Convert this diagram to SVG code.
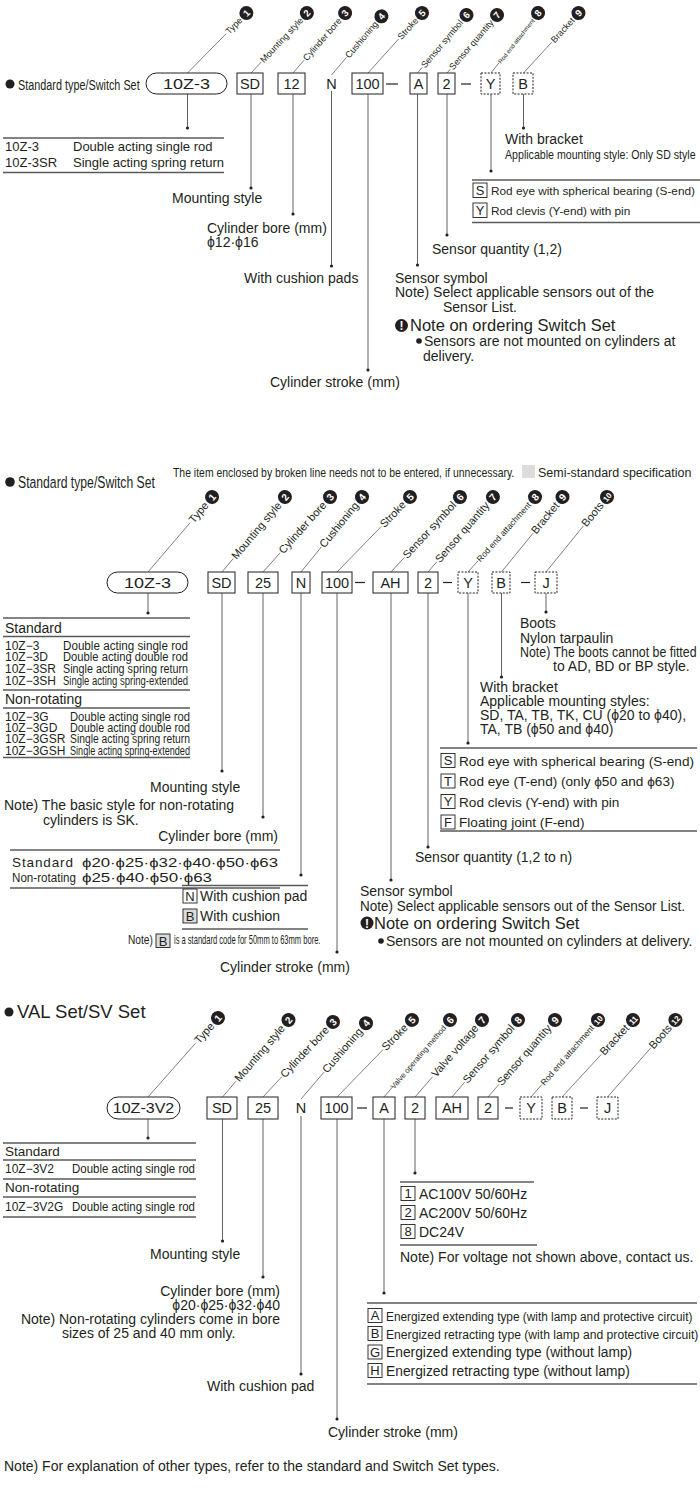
<svg xmlns="http://www.w3.org/2000/svg" width="700" height="1500" viewBox="0 0 700 1500">
<style>
text{font-family:"Liberation Sans",Arial,"DejaVu Sans",sans-serif;fill:#231f20}
.s14{font-size:14px}
.s13{font-size:13px}
.s12{font-size:12px}
.code{font-size:14.5px;text-anchor:middle}
.l9{font-size:9px;text-anchor:end}
.l11{font-size:11px;text-anchor:end}
.n{font-weight:bold;text-anchor:middle}
.box{fill:#fff;stroke:#231f20;stroke-width:1}
.dbox{fill:#fff;stroke:#231f20;stroke-width:1;stroke-dasharray:2 1.4}
.sb{fill:#fff;stroke:#231f20;stroke-width:0.9}
.gb{fill:#dcdcdc;stroke:#231f20;stroke-width:0.9}
.ld{stroke:#3a3a3a;stroke-width:0.6}
.vl{stroke:#3a3a3a;stroke-width:0.8}
.rule{stroke:#5a5a5a;stroke-width:1.3}
.dash{stroke:#231f20;stroke-width:1.2}
.dot{fill:#231f20}
.cb{fill:#231f20}
.sl{font-size:13px;text-anchor:middle}
text.n,text.w{fill:#fff}
</style>

<!-- ================= SECTION 1 ================= -->
<g id="s1-title"><circle class="dot" cx="10" cy="84" r="4.5"/><text transform="translate(18,90) scale(0.70,1)" font-size="15.5">Standard type/Switch Set</text></g>

<g id="s1-codes">
<g id="s1-type"><rect class="box" x="146" y="73" width="81" height="21" rx="10.5"/><text class="code" transform="translate(186.5,89) scale(1.2,1)" style="font-size:15px">10Z-3</text></g>
<g id="s1-mount"><rect class="box" x="237" y="73" width="26" height="21"/><text class="code" x="250" y="89">SD</text></g>
<g id="s1-bore"><rect class="box" x="278" y="73" width="27" height="21"/><text class="code" x="291.5" y="89">12</text></g>
<g id="s1-cush"><text class="code" x="331.5" y="89">N</text></g>
<g id="s1-stroke"><rect class="box" x="352" y="73" width="31" height="21"/><text class="code" x="367.5" y="89">100</text></g>
<line class="dash" x1="386" y1="84" x2="398" y2="84"/>
<g id="s1-sensor"><rect class="box" x="410" y="73" width="17" height="21"/><text class="code" x="418.5" y="89">A</text></g>
<g id="s1-qty"><rect class="box" x="438" y="73" width="17" height="21"/><text class="code" x="446.5" y="89">2</text></g>
<line class="dash" x1="461" y1="84" x2="471" y2="84"/>
<g id="s1-rodend"><rect class="dbox" x="481" y="73" width="19" height="21"/><text class="code" x="490.5" y="89">Y</text></g>
<g id="s1-bracket"><rect class="dbox" x="513" y="73" width="20" height="21"/><text class="code" x="523" y="89">B</text></g>
</g>

<g id="s1-leaders">
<g transform="translate(187.5,73) rotate(-45.5)"><line class="ld" x1="0" y1="0" x2="55" y2="0"/><text class="l9" x="76" y="3">Type</text><circle class="cb" cx="84" cy="0" r="7"/><text class="n" x="84" y="3.3" font-size="9.5">1</text></g>
<g transform="translate(251,73) rotate(-47)"><line class="ld" x1="0" y1="0" x2="15" y2="0"/><text class="l9" x="74" y="3">Mounting style</text><circle class="cb" cx="82" cy="0" r="7"/><text class="n" x="82" y="3.3" font-size="9.5">2</text></g>
<g transform="translate(293,73) rotate(-49)"><line class="ld" x1="0" y1="0" x2="17" y2="0"/><text class="l9" x="71.4" y="3">Cylinder bore</text><circle class="cb" cx="79.4" cy="0" r="7"/><text class="n" x="79.4" y="3.3" font-size="9.5">3</text></g>
<g transform="translate(331.5,75) rotate(-49.6)"><line class="ld" x1="0" y1="0" x2="23" y2="0"/><text class="l9" x="69" y="3">Cushioning</text><circle class="cb" cx="77" cy="0" r="7"/><text class="n" x="77" y="3.3" font-size="9.5">4</text></g>
<g transform="translate(368,73) rotate(-48)"><line class="ld" x1="0" y1="0" x2="45.7" y2="0"/><text class="l9" x="72.7" y="3">Stroke</text><circle class="cb" cx="80.7" cy="0" r="7"/><text class="n" x="80.7" y="3.3" font-size="9.5">5</text></g>
<g transform="translate(417.5,73) rotate(-49.8)"><line class="ld" x1="0" y1="0" x2="7.4" y2="0"/><text class="l9" x="67.9" y="3">Sensor symbol</text><circle class="cb" cx="75.9" cy="0" r="7"/><text class="n" x="75.9" y="3.3" font-size="9.5">6</text></g>
<g transform="translate(447,73) rotate(-49.2)"><line class="ld" x1="0" y1="0" x2="5.2" y2="0"/><text class="l9" x="68.6" y="3">Sensor quantity</text><circle class="cb" cx="76.6" cy="0" r="7"/><text class="n" x="76.6" y="3.3" font-size="9.5">7</text></g>
<g transform="translate(491,73) rotate(-51.9)"><line class="ld" x1="0" y1="0" x2="13.2" y2="0"/><text x="68.2" y="2.4" font-size="6.1" text-anchor="end">Rod end attachment</text><circle class="cb" cx="76.2" cy="0" r="7"/><text class="n" x="76.2" y="3.3" font-size="9.5">8</text></g>
<g transform="translate(523.5,73) rotate(-47.5)"><line class="ld" x1="0" y1="0" x2="41.9" y2="0"/><text class="l9" x="73.4" y="3">Bracket</text><circle class="cb" cx="81.4" cy="0" r="7"/><text class="n" x="81.4" y="3.3" font-size="9.5">9</text></g>
</g>

<g id="s1-connectors">
<line class="vl" x1="187.5" y1="94" x2="187.5" y2="128"/><circle class="dot" cx="187.5" cy="128" r="1.6"/>
<line class="vl" x1="251" y1="94" x2="251" y2="188"/><circle class="dot" cx="251" cy="188" r="1.6"/>
<line class="vl" x1="293" y1="94" x2="293" y2="214"/><circle class="dot" cx="293" cy="214" r="1.6"/>
<line class="vl" x1="331.5" y1="91" x2="331.5" y2="266"/><circle class="dot" cx="331.5" cy="266" r="1.6"/>
<line class="vl" x1="368" y1="94" x2="368" y2="370"/><circle class="dot" cx="368" cy="370" r="1.6"/>
<line class="vl" x1="417.5" y1="94" x2="417.5" y2="265"/><circle class="dot" cx="417.5" cy="265" r="1.6"/>
<line class="vl" x1="447" y1="94" x2="447" y2="235"/><circle class="dot" cx="447" cy="235" r="1.6"/>
<line class="vl" x1="491" y1="94" x2="491" y2="171"/><circle class="dot" cx="491" cy="171" r="1.6"/>
<line class="vl" x1="523.5" y1="94" x2="523.5" y2="128"/><circle class="dot" cx="523.5" cy="128" r="1.6"/>
</g>

<g id="s1-type-table">
<line class="rule" x1="3" y1="138" x2="224" y2="138"/>
<text class="s13" x="5" y="151">10Z-3</text><text class="s13" x="73" y="151">Double acting single rod</text>
<text class="s13" x="5" y="167">10Z-3SR</text><text class="s13" x="73" y="167">Single acting spring return</text>
<line class="rule" x1="3" y1="172.5" x2="224" y2="172.5"/>
</g>
<text class="s14" x="172" y="203">Mounting style</text>
<text class="s14" x="207" y="233">Cylinder bore (mm)</text>
<text class="s14" x="207" y="247">ϕ12·ϕ16</text>
<text class="s14" x="244" y="282.5">With cushion pads</text>
<text class="s14" x="270" y="387">Cylinder stroke (mm)</text>
<text class="s14" x="432" y="253.5">Sensor quantity (1,2)</text>
<text class="s14" x="395" y="282.5">Sensor symbol</text>
<text class="s14" x="395" y="297">Note) Select applicable sensors out of the</text>
<text class="s14" x="443" y="312">Sensor List.</text>
<g id="s1-note"><circle class="cb" cx="401.5" cy="325.5" r="6.5"/><text class="w" x="401.5" y="330" font-size="12" font-weight="bold" text-anchor="middle">!</text>
<text x="410" y="330.5" font-size="16.5">Note on ordering Switch Set</text>
<circle class="dot" cx="419" cy="341" r="2.8"/><text class="s14" x="424" y="345.5">Sensors are not mounted on cylinders at</text>
<text class="s14" x="423" y="360.5">delivery.</text></g>
<text class="s14" x="505" y="144">With bracket</text>
<text transform="translate(505,158.5) scale(0.885,1)" font-size="12">Applicable mounting style: Only SD style</text>
<g id="s1-rodend-table">
<line class="rule" x1="472" y1="180" x2="700" y2="180"/>
<rect class="sb" x="473" y="183" width="14" height="14.5"/><text class="sl" x="480" y="194.5">S</text><text x="491" y="195" font-size="11.8">Rod eye with spherical bearing (S-end)</text>
<rect class="sb" x="473" y="203" width="14" height="14.5"/><text class="sl" x="480" y="214.5">Y</text><text x="491" y="215" font-size="11.8">Rod clevis (Y-end) with pin</text>
<line class="rule" x1="472" y1="222.5" x2="700" y2="222.5"/>
</g>

<!-- ================= SECTION 2 ================= -->
<g id="s2-title"><circle class="dot" cx="10" cy="482" r="4.8"/><text transform="translate(18,488) scale(0.739,1)" font-size="16.5">Standard type/Switch Set</text></g>
<text transform="translate(173,477) scale(0.87,1)" font-size="12">The item enclosed by broken line needs not to be entered, if unnecessary.</text>
<rect x="522" y="465" width="13" height="13" fill="#dcdcdc"/>
<text transform="translate(538,477) scale(0.925,1)" font-size="13.5">Semi-standard specification</text>

<g id="s2-codes">
<g id="s2-type"><rect class="box" x="107" y="572" width="81" height="21" rx="10.5"/><text class="code" transform="translate(147.5,588) scale(1.2,1)" style="font-size:15px">10Z-3</text></g>
<g id="s2-mount"><rect class="box" x="208" y="572" width="27" height="21"/><text class="code" x="221.5" y="588">SD</text></g>
<g id="s2-bore"><rect class="box" x="248" y="572" width="30" height="21"/><text class="code" x="263" y="588">25</text></g>
<g id="s2-cush"><rect class="box" x="292" y="572" width="18" height="21"/><text class="code" x="301" y="588">N</text></g>
<g id="s2-stroke"><rect class="box" x="322" y="572" width="30" height="21"/><text class="code" x="337" y="588">100</text></g>
<line class="dash" x1="355" y1="582.5" x2="365" y2="582.5"/>
<g id="s2-sensor"><rect class="box" x="373" y="572" width="35" height="21"/><text class="code" x="390.5" y="588">AH</text></g>
<g id="s2-qty"><rect class="box" x="418" y="572" width="20" height="21"/><text class="code" x="428" y="588">2</text></g>
<line class="dash" x1="443" y1="582.5" x2="452" y2="582.5"/>
<g id="s2-rodend"><rect class="dbox" x="458" y="572" width="20" height="21"/><text class="code" x="468" y="588">Y</text></g>
<g id="s2-bracket"><rect class="dbox" x="492" y="572" width="18" height="21"/><text class="code" x="501" y="588">B</text></g>
<line class="dash" x1="521" y1="582.5" x2="530" y2="582.5"/>
<g id="s2-boots"><rect class="dbox" x="535" y="572" width="22" height="21"/><text class="code" x="546" y="588">J</text></g>
</g>

<g id="s2-leaders">
<g transform="translate(148,572) rotate(-49.5)"><line class="ld" x1="0" y1="0" x2="64.6" y2="0"/><text class="l11" x="90.1" y="3.5">Type</text><circle class="cb" cx="98.6" cy="0" r="7"/><text class="n" x="98.6" y="3.6" font-size="10">1</text></g>
<g transform="translate(222,572) rotate(-50)"><line class="ld" x1="0" y1="0" x2="17.5" y2="0"/><text class="l11" x="89.4" y="3.5">Mounting style</text><circle class="cb" cx="97.9" cy="0" r="7"/><text class="n" x="97.9" y="3.6" font-size="10">2</text></g>
<g transform="translate(263,572) rotate(-48.2)"><line class="ld" x1="0" y1="0" x2="25.7" y2="0"/><text class="l11" x="92.1" y="3.5">Cylinder bore</text><circle class="cb" cx="100.6" cy="0" r="7"/><text class="n" x="100.6" y="3.6" font-size="10">3</text></g>
<g transform="translate(301,572) rotate(-50.9)"><line class="ld" x1="0" y1="0" x2="32.2" y2="0"/><text class="l11" x="88.2" y="3.5">Cushioning</text><circle class="cb" cx="96.7" cy="0" r="7"/><text class="n" x="96.7" y="3.6" font-size="10">4</text></g>
<g transform="translate(337,572) rotate(-45.8)"><line class="ld" x1="0" y1="0" x2="63.4" y2="0"/><text class="l11" x="96.2" y="3.5">Stroke</text><circle class="cb" cx="104.7" cy="0" r="7"/><text class="n" x="104.7" y="3.6" font-size="10">5</text></g>
<g transform="translate(391,572) rotate(-47.4)"><line class="ld" x1="0" y1="0" x2="19.7" y2="0"/><text class="l11" x="93.4" y="3.5">Sensor symbol</text><circle class="cb" cx="101.9" cy="0" r="7"/><text class="n" x="101.9" y="3.6" font-size="10">6</text></g>
<g transform="translate(428,572) rotate(-49.1)"><line class="ld" x1="0" y1="0" x2="13.5" y2="0"/><text class="l11" x="90.7" y="3.5">Sensor quantity</text><circle class="cb" cx="99.2" cy="0" r="7"/><text class="n" x="99.2" y="3.6" font-size="10">7</text></g>
<g transform="translate(468,572) rotate(-48.2)"><line class="ld" x1="0" y1="0" x2="15.1" y2="0"/><text x="92.1" y="3" font-size="8.5" text-anchor="end">Rod end attachment</text><circle class="cb" cx="100.6" cy="0" r="7"/><text class="n" x="100.6" y="3.6" font-size="10">8</text></g>
<g transform="translate(501.5,572) rotate(-50.9)"><line class="ld" x1="0" y1="0" x2="49.9" y2="0"/><text class="l11" x="88.2" y="3.5">Bracket</text><circle class="cb" cx="96.7" cy="0" r="7"/><text class="n" x="96.7" y="3.6" font-size="10">9</text></g>
<g transform="translate(546,572) rotate(-50.9)"><line class="ld" x1="0" y1="0" x2="59.1" y2="0"/><text class="l11" x="88.2" y="3.5">Boots</text><circle class="cb" cx="96.7" cy="0" r="7"/><text class="n" x="96.7" y="3.2" font-size="8">10</text></g>
</g>

<g id="s2-connectors">
<line class="vl" x1="148" y1="593" x2="148" y2="613"/><circle class="dot" cx="148" cy="613" r="1.6"/>
<line class="vl" x1="222" y1="593" x2="222" y2="771"/><circle class="dot" cx="222" cy="771" r="1.6"/>
<line class="vl" x1="263" y1="593" x2="263" y2="817"/><circle class="dot" cx="263" cy="817" r="1.6"/>
<line class="vl" x1="301" y1="593" x2="301" y2="875"/><circle class="dot" cx="301" cy="875" r="1.6"/>
<line class="vl" x1="337" y1="593" x2="337" y2="952"/><circle class="dot" cx="337" cy="952" r="1.6"/>
<line class="vl" x1="391" y1="593" x2="391" y2="880"/><circle class="dot" cx="391" cy="880" r="1.6"/>
<line class="vl" x1="428" y1="593" x2="428" y2="847"/><circle class="dot" cx="428" cy="847" r="1.6"/>
<line class="vl" x1="468" y1="593" x2="468" y2="743"/><circle class="dot" cx="468" cy="743" r="1.6"/>
<line class="vl" x1="501.5" y1="593" x2="501.5" y2="677"/><circle class="dot" cx="501.5" cy="677" r="1.6"/>
<line class="vl" x1="546" y1="593" x2="546" y2="612"/><circle class="dot" cx="546" cy="612" r="1.6"/>
</g>

<g id="s2-type-table">
<line class="rule" x1="3" y1="618" x2="190" y2="618"/>
<text class="s14" x="5" y="633">Standard</text>
<line class="rule" x1="3" y1="636.5" x2="190" y2="636.5"/>
<text class="s12" x="5" y="649.5">10Z−3</text><text x="63" y="649.5" font-size="12" textLength="125" lengthAdjust="spacingAndGlyphs">Double acting single rod</text>
<text class="s12" x="5" y="661">10Z−3D</text><text x="63" y="661" font-size="12" textLength="125" lengthAdjust="spacingAndGlyphs">Double acting double rod</text>
<text class="s12" x="5" y="672.5">10Z−3SR</text><text x="63" y="672.5" font-size="12" textLength="125" lengthAdjust="spacingAndGlyphs">Single acting spring return</text>
<text class="s12" x="5" y="684.5">10Z−3SH</text><text x="63" y="684.5" font-size="12" textLength="125" lengthAdjust="spacingAndGlyphs">Single acting spring-extended</text>
<line class="rule" x1="3" y1="690" x2="190" y2="690"/>
<text class="s14" x="5" y="703.5">Non-rotating</text>
<line class="rule" x1="3" y1="708" x2="190" y2="708"/>
<text class="s12" x="5" y="720.5">10Z−3G</text><text x="70" y="720.5" font-size="12" textLength="120" lengthAdjust="spacingAndGlyphs">Double acting single rod</text>
<text class="s12" x="5" y="731.5">10Z−3GD</text><text x="70" y="731.5" font-size="12" textLength="120" lengthAdjust="spacingAndGlyphs">Double acting double rod</text>
<text class="s12" x="5" y="743">10Z−3GSR</text><text x="70" y="743" font-size="12" textLength="120" lengthAdjust="spacingAndGlyphs">Single acting spring return</text>
<text class="s12" x="5" y="754.5">10Z−3GSH</text><text x="70" y="754.5" font-size="12" textLength="120" lengthAdjust="spacingAndGlyphs">Single acting spring-extended</text>
<line class="rule" x1="3" y1="757.5" x2="190" y2="757.5"/>
</g>
<text class="s14" x="150" y="792">Mounting style</text>
<text class="s14" x="4" y="810">Note) The basic style for non-rotating</text>
<text class="s14" x="43" y="825">cylinders is SK.</text>
<text class="s14" x="278" y="841" text-anchor="end">Cylinder bore (mm)</text>
<g id="s2-bore-table">
<line class="rule" x1="10" y1="850" x2="280" y2="850"/>
<text x="12" y="867" font-size="13.5" textLength="61">Standard</text>
<text x="82" y="867" font-size="13.5" textLength="196" lengthAdjust="spacingAndGlyphs">ϕ20·ϕ25·ϕ32·ϕ40·ϕ50·ϕ63</text>
<text transform="translate(12,882) scale(0.93,1)" font-size="12.5">Non-rotating</text>
<text x="82" y="882" font-size="13.5" textLength="130" lengthAdjust="spacingAndGlyphs">ϕ25·ϕ40·ϕ50·ϕ63</text>
<line class="rule" x1="10" y1="888" x2="280" y2="888"/>
</g>
<g id="s2-cush-table">
<line class="rule" x1="182" y1="885.5" x2="308" y2="885.5"/>
<rect class="sb" x="183" y="889" width="14" height="14"/><text class="sl" x="190" y="900.5">N</text><text class="s14" x="200" y="901">With cushion pad</text>
<rect class="gb" x="183" y="909" width="14" height="14"/><text class="sl" x="190" y="920.5">B</text><text class="s14" x="200" y="921">With cushion</text>
<line class="rule" x1="182" y1="929" x2="308" y2="929"/>
</g>
<g id="s2-cush-note"><text transform="translate(128,944) scale(0.85,1)" font-size="12">Note)</text>
<rect class="gb" x="156" y="934" width="14" height="13.5"/><text class="sl" x="163" y="945.5">B</text>
<text transform="translate(174,944) scale(0.63,1)" font-size="12">is a standard code for 50mm to 63mm bore.</text></g>
<text class="s14" x="220" y="972">Cylinder stroke (mm)</text>

<text class="s14" x="415" y="862">Sensor quantity (1,2 to n)</text>
<text class="s14" x="360" y="896">Sensor symbol</text>
<text transform="translate(360,910.5) scale(0.965,1)" font-size="14">Note) Select applicable sensors out of the Sensor List.</text>
<g id="s2-note"><circle class="cb" cx="367" cy="923" r="6.5"/><text class="w" x="367" y="927.5" font-size="12" font-weight="bold" text-anchor="middle">!</text>
<text x="374" y="928.5" font-size="16.5">Note on ordering Switch Set</text>
<circle class="dot" cx="381" cy="941" r="2.8"/><text x="386" y="945.5" font-size="14">Sensors are not mounted on cylinders at delivery.</text></g>

<text class="s14" x="520" y="628">Boots</text>
<text class="s14" x="520" y="643">Nylon tarpaulin</text>
<text transform="translate(520,657) scale(0.885,1)" font-size="14">Note) The boots cannot be fitted</text>
<text class="s14" x="553" y="671">to AD, BD or BP style.</text>
<text class="s14" x="480" y="692">With bracket</text>
<text class="s14" x="480" y="706">Applicable mounting styles:</text>
<text class="s14" x="480" y="720">SD, TA, TB, TK, CU (ϕ20 to ϕ40),</text>
<text class="s14" x="480" y="734">TA, TB (ϕ50 and ϕ40)</text>
<g id="s2-rodend-table">
<line class="rule" x1="440" y1="748" x2="697" y2="748"/>
<rect class="sb" x="441" y="753.5" width="14" height="14"/><text class="sl" x="448" y="765">S</text><text x="459" y="765.5" font-size="13.6">Rod eye with spherical bearing (S-end)</text>
<rect class="sb" x="441" y="774" width="14" height="14"/><text class="sl" x="448" y="785.5">T</text><text x="459" y="786" font-size="13.6">Rod eye (T-end) (only ϕ50 and ϕ63)</text>
<rect class="sb" x="441" y="794.5" width="14" height="14"/><text class="sl" x="448" y="806">Y</text><text x="459" y="806.5" font-size="13.6">Rod clevis (Y-end) with pin</text>
<rect class="sb" x="441" y="815" width="14" height="14"/><text class="sl" x="448" y="826.5">F</text><text x="459" y="827" font-size="13.6">Floating joint (F-end)</text>
<line class="rule" x1="440" y1="831" x2="697" y2="831"/>
</g>

<!-- ================= SECTION 3 ================= -->
<g id="s3-title"><circle class="dot" cx="9" cy="1012" r="4.5"/><text x="17" y="1018" font-size="18.5">VAL Set/SV Set</text></g>

<g id="s3-codes">
<g id="s3-type"><rect class="box" x="107" y="1097" width="73" height="22" rx="11"/><text class="code" transform="translate(143.5,1113) scale(1.07,1)" style="font-size:15px">10Z-3V2</text></g>
<g id="s3-mount"><rect class="box" x="207" y="1097" width="30" height="22"/><text class="code" x="222" y="1113">SD</text></g>
<g id="s3-bore"><rect class="box" x="248" y="1097" width="30" height="22"/><text class="code" x="263" y="1113">25</text></g>
<g id="s3-cush"><text class="code" x="301" y="1113">N</text></g>
<g id="s3-stroke"><rect class="box" x="321" y="1097" width="31" height="22"/><text class="code" x="336.5" y="1113">100</text></g>
<line class="dash" x1="357" y1="1108" x2="367" y2="1108"/>
<g id="s3-valveop"><rect class="box" x="373" y="1097" width="22" height="22"/><text class="code" x="384" y="1113">A</text></g>
<g id="s3-volt"><rect class="box" x="405" y="1097" width="20" height="22"/><text class="code" x="415" y="1113">2</text></g>
<g id="s3-sensor"><rect class="box" x="436" y="1097" width="32" height="22"/><text class="code" x="452" y="1113">AH</text></g>
<g id="s3-qty"><rect class="box" x="478" y="1097" width="20" height="22"/><text class="code" x="488" y="1113">2</text></g>
<line class="dash" x1="505" y1="1108" x2="513" y2="1108"/>
<g id="s3-rodend"><rect class="dbox" x="520" y="1097" width="22" height="22"/><text class="code" x="531" y="1113">Y</text></g>
<g id="s3-bracket"><rect class="dbox" x="552" y="1097" width="20" height="22"/><text class="code" x="562" y="1113">B</text></g>
<line class="dash" x1="580" y1="1108" x2="588" y2="1108"/>
<g id="s3-boots"><rect class="dbox" x="597" y="1097" width="21" height="22"/><text class="code" x="607.5" y="1113">J</text></g>
</g>

<g id="s3-leaders">
<g transform="translate(148,1097) rotate(-48.5)"><line class="ld" x1="0" y1="0" x2="71.6" y2="0"/><text class="l11" x="97.1" y="3.5">Type</text><circle class="cb" cx="105.6" cy="0" r="7"/><text class="n" x="105.6" y="3.6" font-size="10">1</text></g>
<g transform="translate(222.5,1097) rotate(-49.4)"><line class="ld" x1="0" y1="0" x2="21" y2="0"/><text class="l11" x="92.9" y="3.5">Mounting style</text><circle class="cb" cx="101.4" cy="0" r="7"/><text class="n" x="101.4" y="3.6" font-size="10">2</text></g>
<g transform="translate(263,1097) rotate(-47)"><line class="ld" x1="0" y1="0" x2="27.7" y2="0"/><text class="l11" x="94.1" y="3.5">Cylinder bore</text><circle class="cb" cx="102.6" cy="0" r="7"/><text class="n" x="102.6" y="3.6" font-size="10">3</text></g>
<g transform="translate(301,1099) rotate(-49.4)"><line class="ld" x1="0" y1="0" x2="35.4" y2="0"/><text class="l11" x="91.4" y="3.5">Cushioning</text><circle class="cb" cx="99.9" cy="0" r="7"/><text class="n" x="99.9" y="3.6" font-size="10">4</text></g>
<g transform="translate(337,1097) rotate(-45.8)"><line class="ld" x1="0" y1="0" x2="66.2" y2="0"/><text class="l11" x="99" y="3.5">Stroke</text><circle class="cb" cx="107.5" cy="0" r="7"/><text class="n" x="107.5" y="3.6" font-size="10">5</text></g>
<g transform="translate(384,1097) rotate(-49.4)"><line class="ld" x1="0" y1="0" x2="13.9" y2="0"/><text x="92.9" y="2.7" font-size="7.7" text-anchor="end">Valve operating method</text><circle class="cb" cx="101.4" cy="0" r="7"/><text class="n" x="101.4" y="3.6" font-size="10">6</text></g>
<g transform="translate(415,1097) rotate(-49)"><line class="ld" x1="0" y1="0" x2="26.6" y2="0"/><text class="l11" x="93.6" y="3.5">Valve voltage</text><circle class="cb" cx="102.1" cy="0" r="7"/><text class="n" x="102.1" y="3.6" font-size="10">7</text></g>
<g transform="translate(452,1097) rotate(-49.4)"><line class="ld" x1="0" y1="0" x2="19.2" y2="0"/><text class="l11" x="92.9" y="3.5">Sensor symbol</text><circle class="cb" cx="101.4" cy="0" r="7"/><text class="n" x="101.4" y="3.6" font-size="10">8</text></g>
<g transform="translate(488,1097) rotate(-49)"><line class="ld" x1="0" y1="0" x2="16.4" y2="0"/><text class="l11" x="93.6" y="3.5">Sensor quantity</text><circle class="cb" cx="102.1" cy="0" r="7"/><text class="n" x="102.1" y="3.6" font-size="10">9</text></g>
<g transform="translate(531,1097) rotate(-49)"><line class="ld" x1="0" y1="0" x2="16.6" y2="0"/><text x="93.6" y="3" font-size="8.5" text-anchor="end">Rod end attachment</text><circle class="cb" cx="102.1" cy="0" r="7"/><text class="n" x="102.1" y="3.2" font-size="8">10</text></g>
<g transform="translate(562,1097) rotate(-47.3)"><line class="ld" x1="0" y1="0" x2="57.9" y2="0"/><text class="l11" x="96.2" y="3.5">Bracket</text><circle class="cb" cx="104.7" cy="0" r="7"/><text class="n" x="104.7" y="3.2" font-size="8">11</text></g>
<g transform="translate(607.5,1097) rotate(-48.6)"><line class="ld" x1="0" y1="0" x2="65.1" y2="0"/><text class="l11" x="94.2" y="3.5">Boots</text><circle class="cb" cx="102.7" cy="0" r="7"/><text class="n" x="102.7" y="3.2" font-size="8">12</text></g>
</g>

<g id="s3-connectors">
<line class="vl" x1="148" y1="1119" x2="148" y2="1138"/><circle class="dot" cx="148" cy="1138" r="1.6"/>
<line class="vl" x1="222.5" y1="1119" x2="222.5" y2="1241"/><circle class="dot" cx="222.5" cy="1241" r="1.6"/>
<line class="vl" x1="263" y1="1119" x2="263" y2="1277"/><circle class="dot" cx="263" cy="1277" r="1.6"/>
<line class="vl" x1="301" y1="1116" x2="301" y2="1374"/><circle class="dot" cx="301" cy="1374" r="1.6"/>
<line class="vl" x1="337" y1="1119" x2="337" y2="1419"/><circle class="dot" cx="337" cy="1419" r="1.6"/>
<line class="vl" x1="384" y1="1119" x2="384" y2="1293"/><circle class="dot" cx="384" cy="1293" r="1.6"/>
<line class="vl" x1="415" y1="1119" x2="415" y2="1173"/><circle class="dot" cx="415" cy="1173" r="1.6"/>
</g>

<g id="s3-type-table">
<line class="rule" x1="3" y1="1143" x2="196" y2="1143"/>
<text x="5" y="1155.5" font-size="13.5">Standard</text>
<line class="rule" x1="3" y1="1160" x2="196" y2="1160"/>
<text class="s12" x="5" y="1173">10Z−3V2</text><text x="72" y="1173" font-size="12" textLength="123" lengthAdjust="spacingAndGlyphs">Double acting single rod</text>
<line class="rule" x1="3" y1="1179" x2="196" y2="1179"/>
<text x="5" y="1192" font-size="13.5">Non-rotating</text>
<line class="rule" x1="3" y1="1197" x2="196" y2="1197"/>
<text class="s12" x="5" y="1211">10Z−3V2G</text><text x="72" y="1211" font-size="12" textLength="123" lengthAdjust="spacingAndGlyphs">Double acting single rod</text>
<line class="rule" x1="3" y1="1217" x2="196" y2="1217"/>
</g>
<text class="s14" x="150" y="1259">Mounting style</text>
<text class="s14" x="280" y="1296" text-anchor="end">Cylinder bore (mm)</text>
<text class="s14" x="280" y="1310" text-anchor="end">ϕ20·ϕ25·ϕ32·ϕ40</text>
<text class="s14" x="280" y="1324" text-anchor="end">Note) Non-rotating cylinders come in bore</text>
<text class="s14" x="62" y="1338">sizes of 25 and 40 mm only.</text>
<text class="s14" x="207" y="1391">With cushion pad</text>
<text class="s14" x="328" y="1437">Cylinder stroke (mm)</text>

<g id="s3-volt-table">
<line class="rule" x1="400" y1="1182" x2="534" y2="1182"/>
<rect class="sb" x="401" y="1186.5" width="14" height="14"/><text class="sl" x="408" y="1198">1</text><text class="s14" x="419" y="1199">AC100V 50/60Hz</text>
<rect class="sb" x="401" y="1205.5" width="14" height="14"/><text class="sl" x="408" y="1217">2</text><text class="s14" x="419" y="1218">AC200V 50/60Hz</text>
<rect class="sb" x="401" y="1224.5" width="14" height="14"/><text class="sl" x="408" y="1236">8</text><text class="s14" x="419" y="1237">DC24V</text>
<line class="rule" x1="400" y1="1245" x2="537" y2="1245"/>
</g>
<text class="s14" x="400" y="1262">Note) For voltage not shown above, contact us.</text>

<g id="s3-valveop-table">
<line class="rule" x1="367" y1="1303" x2="697" y2="1303"/>
<rect class="sb" x="368" y="1308.5" width="14" height="14"/><text class="sl" x="375" y="1320">A</text><text transform="translate(386,1320.5) scale(0.877,1)" font-size="13.5">Energized extending type (with lamp and protective circuit)</text>
<rect class="sb" x="368" y="1326.5" width="14" height="14"/><text class="sl" x="375" y="1338">B</text><text transform="translate(386,1338.5) scale(0.9,1)" font-size="13.5">Energized retracting type (with lamp and protective circuit)</text>
<rect class="sb" x="368" y="1345" width="14" height="14"/><text class="sl" x="375" y="1356.5">G</text><text x="386" y="1357" font-size="13.8">Energized extending type (without lamp)</text>
<rect class="sb" x="368" y="1363.5" width="14" height="14"/><text class="sl" x="375" y="1375">H</text><text x="386" y="1375.5" font-size="13.8">Energized retracting type (without lamp)</text>
<line class="rule" x1="367" y1="1384" x2="697" y2="1384"/>
</g>

<text class="s14" x="4" y="1471">Note) For explanation of other types, refer to the standard and Switch Set types.</text>
</svg>
